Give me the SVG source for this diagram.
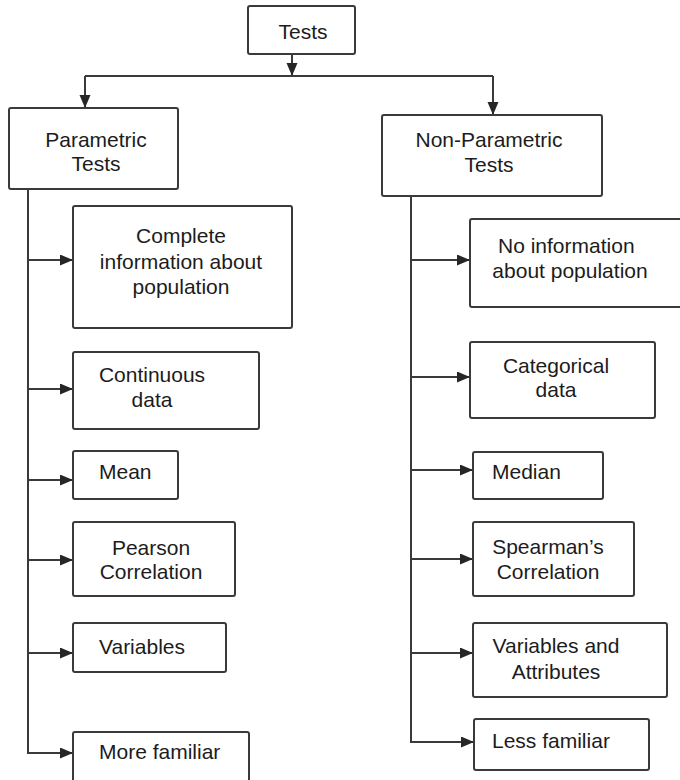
<svg xmlns="http://www.w3.org/2000/svg" width="680" height="780" viewBox="0 0 680 780">
  <style>
    .box { fill: #ffffff; stroke: #3a3a3a; stroke-width: 2; }
    .lbl { font-family: "Liberation Sans", Arial, sans-serif; font-size: 21px; fill: #1c1c1c; }
    .mid { text-anchor: middle; }
    .wire { fill: none; stroke: #3a3a3a; stroke-width: 2; }
  </style>
  <defs>
    <marker id="arrow" markerUnits="userSpaceOnUse" markerWidth="14" markerHeight="12" refX="13" refY="5.5" orient="auto">
      <path d="M0 0 L13 5.5 L0 11 Z" fill="#262626"/>
    </marker>
  </defs>
  <rect width="680" height="780" fill="#ffffff"/>

  <!-- connectors -->
  <g id="connectors" class="wire">
    <path d="M292 54 V76" marker-end="url(#arrow)"/>
    <path d="M85 76 H493"/>
    <path d="M85 76 V108" marker-end="url(#arrow)"/>
    <path d="M493 76 V115" marker-end="url(#arrow)"/>
    <!-- parametric trunk and branches -->
    <path d="M28 189 V753 H73" marker-end="url(#arrow)"/>
    <path d="M28 260 H73" marker-end="url(#arrow)"/>
    <path d="M28 389 H73" marker-end="url(#arrow)"/>
    <path d="M28 480 H73" marker-end="url(#arrow)"/>
    <path d="M28 560 H73" marker-end="url(#arrow)"/>
    <path d="M28 653 H73" marker-end="url(#arrow)"/>
    <!-- non-parametric trunk and branches -->
    <path d="M411 196 V742 H474" marker-end="url(#arrow)"/>
    <path d="M411 260 H470" marker-end="url(#arrow)"/>
    <path d="M411 377 H470" marker-end="url(#arrow)"/>
    <path d="M411 470 H473" marker-end="url(#arrow)"/>
    <path d="M411 559 H473" marker-end="url(#arrow)"/>
    <path d="M411 653 H473" marker-end="url(#arrow)"/>
  </g>

  <g id="tests">
    <rect class="box" x="248" y="6" width="107" height="48" rx="2"/>
    <text class="lbl mid" x="303" y="39">Tests</text>
  </g>

  <g id="parametric">
    <rect class="box" x="9" y="108" width="169" height="81" rx="2"/>
    <text class="lbl mid" x="96" y="147">Parametric</text>
    <text class="lbl mid" x="96" y="171">Tests</text>
  </g>

  <g id="non-parametric">
    <rect class="box" x="382" y="115" width="220" height="81" rx="2"/>
    <text class="lbl mid" x="489" y="147">Non-Parametric</text>
    <text class="lbl mid" x="489" y="172">Tests</text>
  </g>

  <!-- parametric properties -->
  <g id="p-complete">
    <rect class="box" x="73" y="206" width="219" height="122" rx="2"/>
    <text class="lbl mid" x="181" y="243">Complete</text>
    <text class="lbl mid" x="181" y="269">information about</text>
    <text class="lbl mid" x="181" y="294">population</text>
  </g>
  <g id="p-continuous">
    <rect class="box" x="73" y="352" width="186" height="77" rx="2"/>
    <text class="lbl mid" x="152" y="382">Continuous</text>
    <text class="lbl mid" x="152" y="407">data</text>
  </g>
  <g id="p-mean">
    <rect class="box" x="73" y="451" width="105" height="48" rx="2"/>
    <text class="lbl" x="99" y="479">Mean</text>
  </g>
  <g id="p-pearson">
    <rect class="box" x="73" y="522" width="162" height="74" rx="2"/>
    <text class="lbl mid" x="151" y="555">Pearson</text>
    <text class="lbl mid" x="151" y="579">Correlation</text>
  </g>
  <g id="p-variables">
    <rect class="box" x="73" y="623" width="153" height="49" rx="2"/>
    <text class="lbl" x="99" y="654">Variables</text>
  </g>
  <g id="p-familiar">
    <rect class="box" x="73" y="732" width="176" height="60" rx="2"/>
    <text class="lbl" x="99" y="759">More familiar</text>
  </g>

  <!-- non-parametric properties -->
  <g id="n-noinfo">
    <rect class="box" x="470" y="219" width="220" height="88" rx="2"/>
    <text class="lbl" x="498" y="253">No information</text>
    <text class="lbl mid" x="570" y="278">about population</text>
  </g>
  <g id="n-categorical">
    <rect class="box" x="470" y="342" width="185" height="76" rx="2"/>
    <text class="lbl mid" x="556" y="373">Categorical</text>
    <text class="lbl mid" x="556" y="397">data</text>
  </g>
  <g id="n-median">
    <rect class="box" x="473" y="452" width="130" height="47" rx="2"/>
    <text class="lbl" x="492" y="479">Median</text>
  </g>
  <g id="n-spearman">
    <rect class="box" x="473" y="522" width="161" height="74" rx="2"/>
    <text class="lbl mid" x="548" y="554">Spearman’s</text>
    <text class="lbl mid" x="548" y="579">Correlation</text>
  </g>
  <g id="n-attributes">
    <rect class="box" x="473" y="623" width="194" height="74" rx="2"/>
    <text class="lbl mid" x="556" y="653">Variables and</text>
    <text class="lbl mid" x="556" y="679">Attributes</text>
  </g>
  <g id="n-familiar">
    <rect class="box" x="474" y="719" width="175" height="51" rx="2"/>
    <text class="lbl" x="492" y="748">Less familiar</text>
  </g>
</svg>
